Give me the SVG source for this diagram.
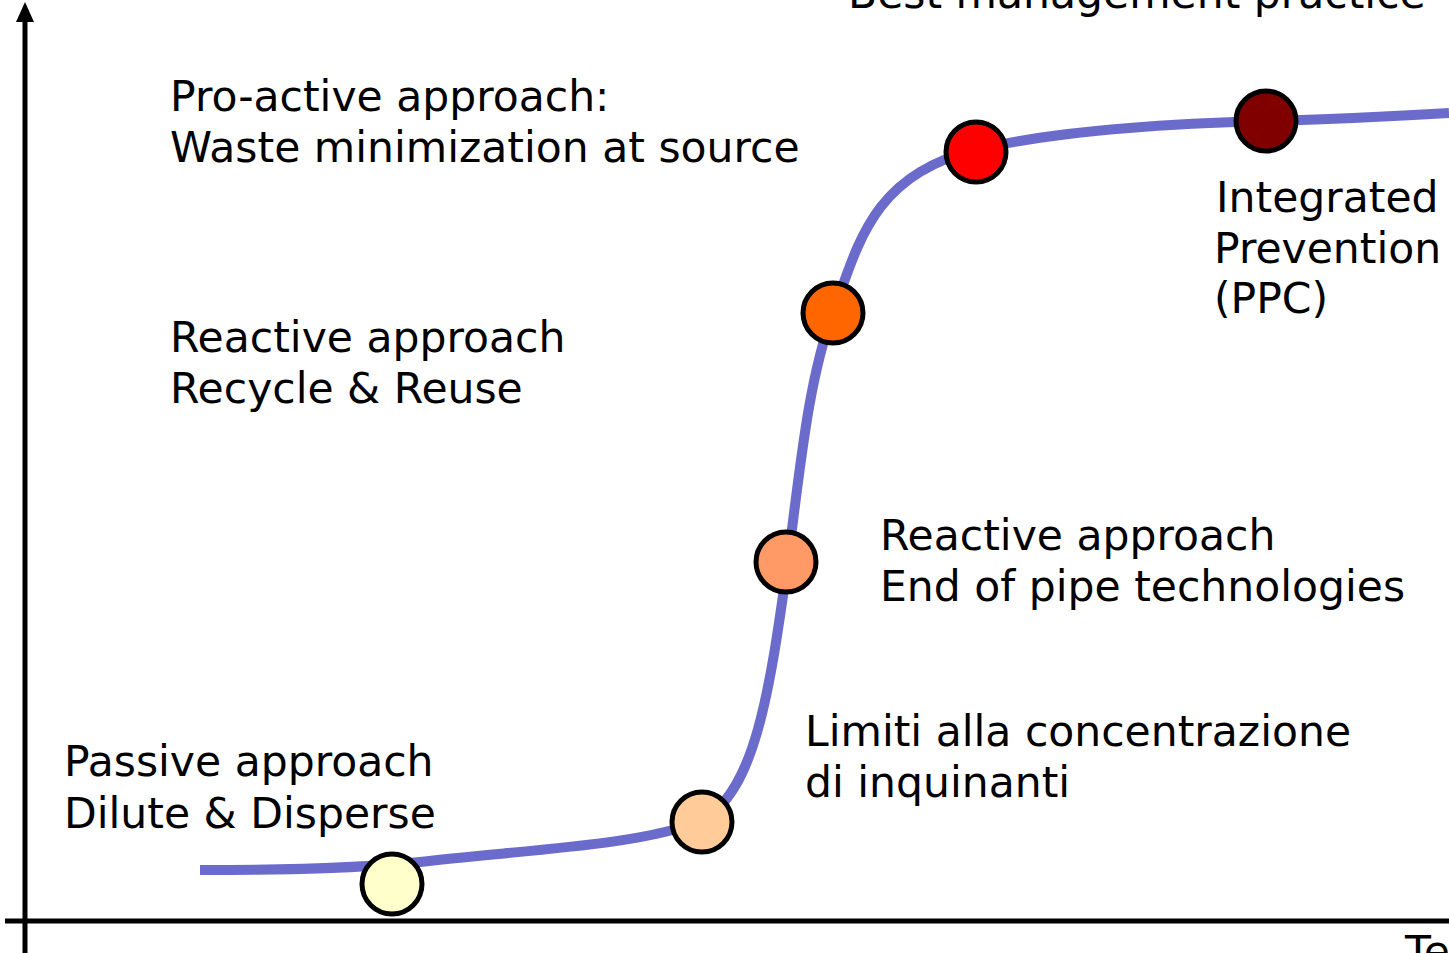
<svg xmlns="http://www.w3.org/2000/svg" width="1449" height="953" viewBox="0 0 1449 953">
  <style>
    .lbl { font-family: "DejaVu Sans", Verdana, sans-serif; font-size: 42.5px; fill: #000; }
    .axis { stroke: #000; stroke-width: 5; fill: none; }
    .curve { stroke: #6b6bcc; stroke-width: 10; fill: none; stroke-linejoin: round; }
    .dot { stroke: #000; stroke-width: 5; }
  </style>
  <rect width="1449" height="953" fill="#fff"/>

  <!-- axes -->
  <g id="axes">
    <line class="axis" x1="25" y1="953" x2="25" y2="16"/>
    <path d="M16,22 L25,2 L34,22 Z" fill="#000"/>
    <line class="axis" x1="5" y1="921" x2="1449" y2="921"/>
  </g>

  <!-- S-curve -->
  <g id="connectors">
    <path class="curve" d="M200,870 C300,870 360,868 420,862 C520,850 640,846 700,821 C755,795 770,690 788,560 C800,470 808,380 833,313 C858,245 872,175 975,150 C1050,132 1150,124 1266,121 C1340,119 1400,116 1449,113"/>
  </g>

  <!-- stages -->
  <g id="stage-passive"><circle class="dot" cx="392" cy="884" r="30" fill="#ffffcc"/></g>
  <g id="stage-limits"><circle class="dot" cx="702" cy="822" r="30" fill="#ffcc99"/></g>
  <g id="stage-end-of-pipe"><circle class="dot" cx="786" cy="562" r="30" fill="#ff9966"/></g>
  <g id="stage-recycle"><circle class="dot" cx="833" cy="313" r="30" fill="#ff6600"/></g>
  <g id="stage-proactive"><circle class="dot" cx="976" cy="152" r="30" fill="#ff0000"/></g>
  <g id="stage-ppc"><circle class="dot" cx="1266" cy="121" r="30" fill="#800000"/></g>

  <!-- labels -->
  <g id="labels">
    <text class="lbl" x="848" y="8">Best management practice</text>
    <text class="lbl" x="170" y="111">Pro-active approach:</text>
    <text class="lbl" x="170" y="162">Waste minimization at source</text>
    <text class="lbl" x="170" y="352">Reactive approach</text>
    <text class="lbl" x="170" y="403">Recycle &amp; Reuse</text>
    <text class="lbl" x="1216" y="212">Integrated</text>
    <text class="lbl" x="1214" y="263">Prevention</text>
    <text class="lbl" x="1214" y="313">(PPC)</text>
    <text class="lbl" x="880" y="550">Reactive approach</text>
    <text class="lbl" x="880" y="601">End of pipe technologies</text>
    <text class="lbl" x="805" y="746">Limiti alla concentrazione</text>
    <text class="lbl" x="805" y="797">di inquinanti</text>
    <text class="lbl" x="64" y="776">Passive approach</text>
    <text class="lbl" x="64" y="828">Dilute &amp; Disperse</text>
    <text class="lbl" x="1405" y="966">Te</text>
  </g>
</svg>
